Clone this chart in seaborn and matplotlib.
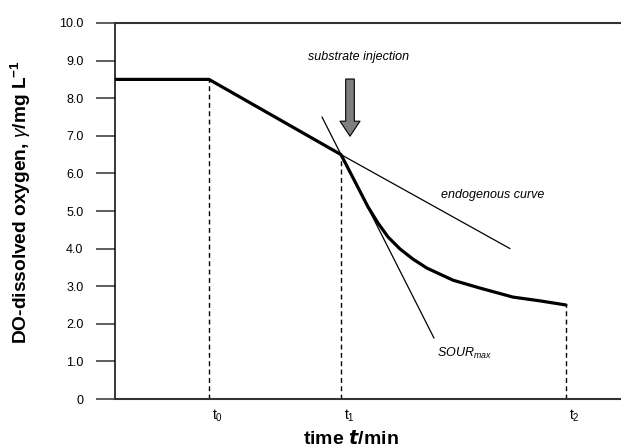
import numpy as np
import pandas as pd
import matplotlib
matplotlib.use('Agg')
import matplotlib.pyplot as plt
from matplotlib.transforms import ScaledTranslation
import seaborn as sns

# time axis positions (arbitrary units, only t0/t1/t2 are labelled)
t_marks = [9.4, 22.6, 45.1]
t_labels = [r'$\mathregular{t_0}$', r'$\mathregular{t_1}$', r'$\mathregular{t_2}$']
t_mark_do = [8.5, 6.5, 2.5]

# measured DO curve
curve_t = [0, 9.4, 22.6, 24.0, 25.3, 26.3, 27.3, 28.5, 29.8, 31.2, 33.8, 36.5, 39.8, 42.5, 45.1]
curve_do = [8.5, 8.5, 6.5, 5.78, 5.11, 4.68, 4.31, 3.99, 3.72, 3.48, 3.16, 2.95, 2.71, 2.61, 2.5]

# endogenous extrapolation and max-slope tangent
endo_t = [22.6, 39.5]
endo_do = [6.5, 4.0]
sour_t = [20.7, 31.9]
sour_do = [7.5, 1.62]

y_ticks = [0, 1, 2, 3, 4, 5, 6, 7, 8, 9, 10]
y_labels = ['0', '1.0', '2.0', '3.0', '4.0', '5.0', '6.0', '7.0', '8.0', '9.0', '10.0']

sns.set_style('white')
plt.rcParams['font.family'] = ['Liberation Sans', 'DejaVu Sans']
plt.rcParams['text.color'] = 'black'
plt.rcParams['xtick.color'] = 'black'
plt.rcParams['ytick.color'] = 'black'
plt.rcParams['mathtext.fontset'] = 'custom'
plt.rcParams['mathtext.rm'] = 'Liberation Sans'
plt.rcParams['mathtext.it'] = 'Liberation Sans:italic'
plt.rcParams['mathtext.bf'] = 'Liberation Sans:bold'

fig = plt.figure(figsize=(6.21, 4.48), dpi=100)
ax = fig.add_axes([115/621, 1-399/448, 1-115/621, (399-23)/448])

df_curve = pd.DataFrame({'t': curve_t, 'do': curve_do})
sns.lineplot(data=df_curve, x='t', y='do', sort=False, estimator=None,
             color='black', lw=2.3, ax=ax)
sns.lineplot(x=endo_t, y=endo_do, sort=False, estimator=None, color='black', lw=0.9, ax=ax)
sns.lineplot(x=sour_t, y=sour_do, sort=False, estimator=None, color='black', lw=0.9, ax=ax)

# dashed drop lines to the time axis
for t, d in zip(t_marks, t_mark_do):
    ax.plot([t, t], [0, d], color='black', lw=1, linestyle=(0, (3.5, 2.5)))

ax.set_xlim(0, 50.6)
ax.set_ylim(0, 10)
ax.set_yticks(y_ticks)
ax.set_yticklabels(y_labels, fontsize=9)
ax.set_xticks(t_marks)
ax.set_xticklabels(t_labels, fontsize=10)
ax.tick_params(axis='y', direction='out', length=13.7, width=1.1, color='#333333', pad=9, left=True)
ax.tick_params(axis='x', length=0, pad=6)
shift = ScaledTranslation(3/100, 0, fig.dpi_scale_trans)
for lab in ax.get_xticklabels():
    lab.set_horizontalalignment('left')
    lab.set_transform(lab.get_transform() + shift)

for s in ['top', 'bottom']:
    ax.spines[s].set_color('#333333')
    ax.spines[s].set_linewidth(1.5)
ax.spines['left'].set_color('black')
ax.spines['left'].set_linewidth(1.1)
ax.spines['right'].set_visible(False)

ax.set_xlabel('')
ax.set_ylabel('')
fig.text(351/621, 1-439/448, r'time $\mathbfit{t}$/min', ha='center', va='center',
         fontsize=14, fontweight='bold')
fig.text(21/621, 1-202/448, r'DO-dissolved oxygen, $\mathit{\gamma}$/mg L$^{\mathbf{-1}}$',
         rotation=90, ha='center', va='center', fontsize=13.8, fontweight='bold')

# annotations
ax.text(24.4, 9.1, 'substrate injection', style='italic', fontsize=9, ha='center', va='center')
ax.text(37.75, 5.42, 'endogenous curve', style='italic', fontsize=9, ha='center', va='center')
ax.text(32.2, 1.22, r'$\mathit{SOUR}_{\mathit{max}}$', fontsize=9, ha='left', va='center')

ax.annotate('', xy=(23.5, 6.99), xytext=(23.5, 8.51),
            arrowprops=dict(arrowstyle='simple,head_width=14.4,head_length=10.8,tail_width=6.2',
                            mutation_scale=1, fc='#7f7f7f', ec='black', lw=0.8,
                            shrinkA=0, shrinkB=0))

fig.savefig('out.png', dpi=100)
